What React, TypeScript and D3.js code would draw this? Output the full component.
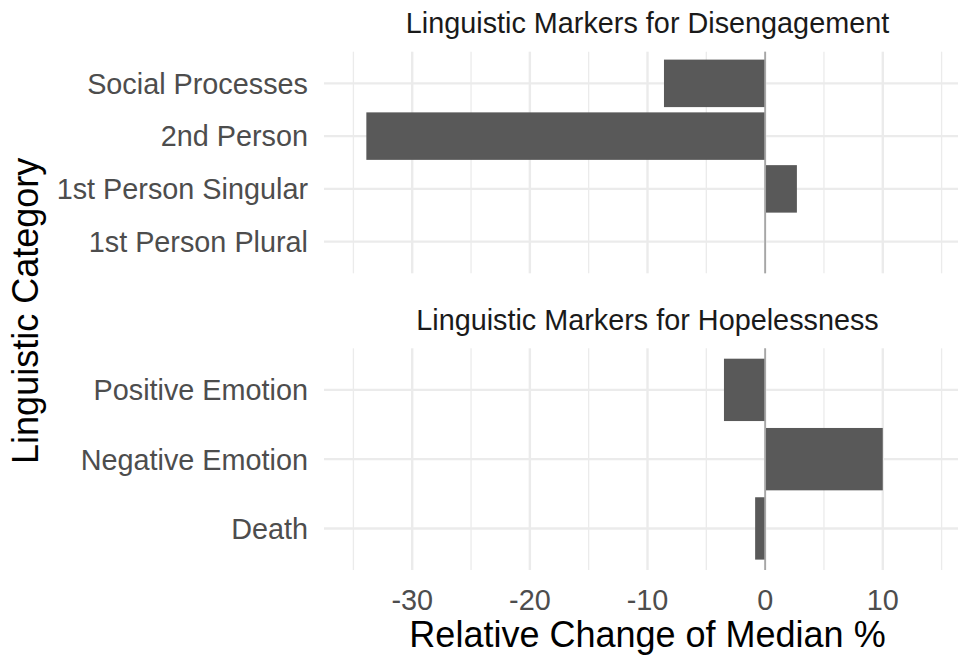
import React from 'react';
import * as d3 from 'd3';

// chart data
const facetTitles = ['Linguistic Markers for Disengagement', 'Linguistic Markers for Hopelessness'];
const disengagementCategories = ['Social Processes', '2nd Person', '1st Person Singular', '1st Person Plural'];
const disengagementValues = [-8.6, -33.9, 2.7, 0];
const hopelessnessCategories = ['Positive Emotion', 'Negative Emotion', 'Death'];
const hopelessnessValues = [-3.5, 10.0, -0.85];
const xMajorTicks = [-30, -20, -10, 0, 10];
const xMinorTicks = [-35, -25, -15, -5, 5, 15];
const xTitle = 'Relative Change of Median %';
const yTitle = 'Linguistic Category';

const W = 958;
const H = 655;
const FONT = '"Liberation Sans", Arial, Helvetica, sans-serif';

const App = () => {
    const panelLeft = 324;
    const panelRight = 971; // panel runs past the right edge of the picture
    const panels = [
        { title: facetTitles[0], cats: disengagementCategories, vals: disengagementValues, top: 51.7, bottom: 273.3 },
        { title: facetTitles[1], cats: hopelessnessCategories, vals: hopelessnessValues, top: 348.3, bottom: 570 },
    ];

    const x = d3.scaleLinear().domain([-37.5, 17.5]).range([panelLeft, panelRight]);

    return (
        <div style={{ position: 'absolute', left: 0, top: 0 }}>
            <svg width={W} height={H} style={{ display: 'block', background: '#fff' }} fontFamily={FONT}>
                {panels.map((p, pi) => {
                    const y = d3.scalePoint<string>().domain(p.cats).range([p.top, p.bottom]).padding(0.6);
                    const bw = y.step() * 0.9;
                    const cx = (panelLeft + panelRight) / 2;
                    return (
                        <g key={pi}>
                            {/* minor x grid */}
                            {xMinorTicks.map(t => (
                                <line key={'mn' + t} x1={x(t)} x2={x(t)} y1={p.top} y2={p.bottom} stroke="#ebebeb" strokeWidth={1.3} />
                            ))}
                            {/* major x grid */}
                            {xMajorTicks.map(t => (
                                <line key={'mj' + t} x1={x(t)} x2={x(t)} y1={p.top} y2={p.bottom} stroke="#ebebeb" strokeWidth={2.4} />
                            ))}
                            {/* y grid */}
                            {p.cats.map(c => (
                                <line key={'yg' + c} x1={panelLeft} x2={panelRight} y1={y(c)} y2={y(c)} stroke="#ebebeb" strokeWidth={2.4} />
                            ))}
                            {/* bars */}
                            {p.cats.map((c, i) => (
                                <rect key={'b' + c}
                                    x={Math.min(x(0), x(p.vals[i]))}
                                    width={Math.abs(x(p.vals[i]) - x(0))}
                                    y={(y(c) as number) - bw / 2}
                                    height={bw}
                                    fill="#595959" />
                            ))}
                            {/* zero reference line */}
                            <line x1={x(0)} x2={x(0)} y1={p.top} y2={p.bottom} stroke="#a6a6a6" strokeWidth={1.8} />
                            {/* y tick labels */}
                            {p.cats.map(c => (
                                <text key={'yl' + c} x={308} y={y(c)} dy="0.36em" textAnchor="end" fontSize={28.8} fill="#4d4d4d">{c}</text>
                            ))}
                            {/* facet strip title */}
                            <text x={cx} y={p.top - 18.5} textAnchor="middle" fontSize={28.8} fill="#1a1a1a">{p.title}</text>
                        </g>
                    );
                })}
                {/* x tick labels */}
                {xMajorTicks.map(t => (
                    <text key={'xl' + t} x={x(t)} y={610} textAnchor="middle" fontSize={28.8} fill="#4d4d4d">{t}</text>
                ))}
                <text x={(panelLeft + panelRight) / 2} y={647} textAnchor="middle" fontSize={36} fill="#000">{xTitle}</text>
                <text transform={`translate(38,${(51.7 + 570) / 2}) rotate(-90)`} textAnchor="middle" fontSize={36} fill="#000">{yTitle}</text>
            </svg>
        </div>
    );
};

export default App;
